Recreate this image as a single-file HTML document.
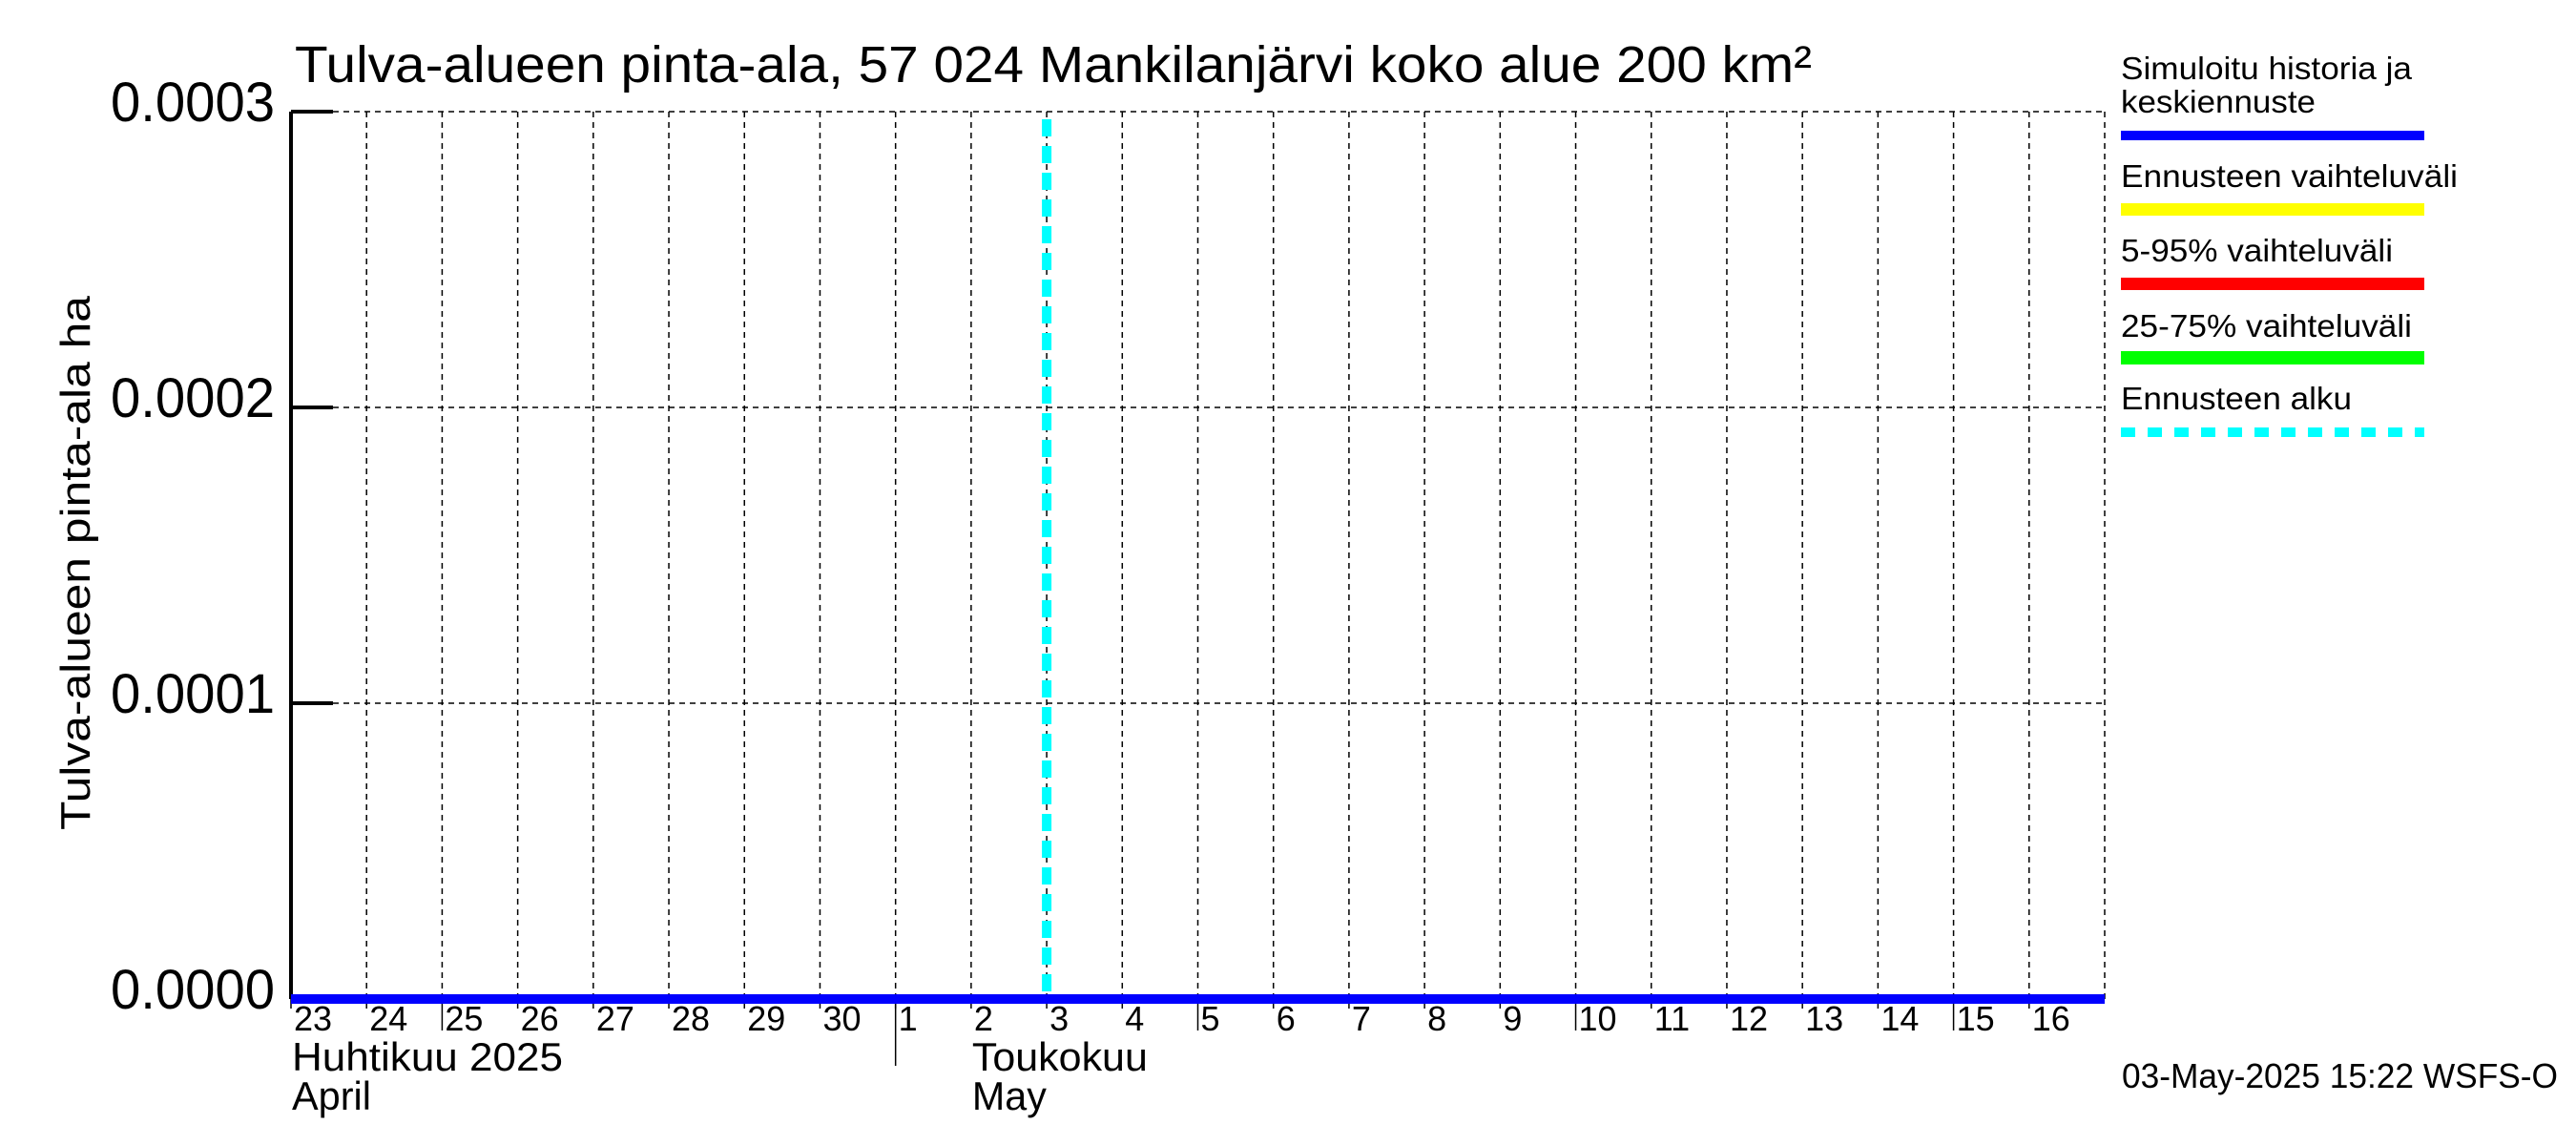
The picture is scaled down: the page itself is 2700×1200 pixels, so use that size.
<!DOCTYPE html>
<html><head><meta charset="utf-8">
<style>
html,body{margin:0;padding:0;background:#fff;}
svg{display:block;font-family:"Liberation Sans",sans-serif;}
</style></head>
<body>
<svg id="chart" width="2700" height="1200" viewBox="0 0 2700 1200" xmlns="http://www.w3.org/2000/svg">
<rect width="2700" height="1200" fill="#fff"/>
<text x="309" y="86" font-size="54" textLength="1590" lengthAdjust="spacingAndGlyphs">Tulva-alueen pinta-ala, 57 024 Mankilanjärvi koko alue 200 km²</text>
<text transform="translate(94,590) rotate(-90)" text-anchor="middle" font-size="44" textLength="560" lengthAdjust="spacingAndGlyphs">Tulva-alueen pinta-ala ha</text>
<g id="grid"></g>
<g id="axes"></g>
<g id="series"></g>
<g id="legend">
<text x="2223" y="83" font-size="33" textLength="305" lengthAdjust="spacingAndGlyphs">Simuloitu historia ja</text>
<text x="2223" y="118" font-size="33" textLength="204" lengthAdjust="spacingAndGlyphs">keskiennuste</text>
<rect x="2223" y="137" width="318" height="10" fill="#0000ff"/>
<text x="2223" y="196" font-size="33" textLength="353" lengthAdjust="spacingAndGlyphs">Ennusteen vaihteluväli</text>
<rect x="2223" y="213" width="318" height="13" fill="#ffff00"/>
<text x="2223" y="274" font-size="33" textLength="285" lengthAdjust="spacingAndGlyphs">5-95% vaihteluväli</text>
<rect x="2223" y="291" width="318" height="13" fill="#ff0000"/>
<text x="2223" y="353" font-size="33" textLength="305" lengthAdjust="spacingAndGlyphs">25-75% vaihteluväli</text>
<rect x="2223" y="368" width="318" height="14" fill="#00ff00"/>
<text x="2223" y="429" font-size="33" textLength="242" lengthAdjust="spacingAndGlyphs">Ennusteen alku</text>
<line x1="2223" y1="453" x2="2541" y2="453" stroke="#00ffff" stroke-width="10" stroke-dasharray="15 13"/>
</g>
<text x="2224" y="1140" font-size="36" textLength="457" lengthAdjust="spacingAndGlyphs">03-May-2025 15:22 WSFS-O</text>
</svg>
<script>
const dayLabels = ["23","24","25","26","27","28","29","30","1","2","3","4","5","6","7","8","9","10","11","12","13","14","15","16"];
const seriesValues = [0,0,0,0,0,0,0,0,0,0,0,0,0,0,0,0,0,0,0,0,0,0,0,0,0];
const yTicks = [0, 0.0001, 0.0002, 0.0003];
const yTickLabels = ["0.0000","0.0001","0.0002","0.0003"];
const forecastStartDay = 10;
const longTickDays = ["25","5","10","15"];

const NS = "http://www.w3.org/2000/svg";
const L = 305, R = 2206, T = 117, B = 1047, nDays = 24;
const xScale = d => L + (R - L) * d / nDays;
const yScale = v => B - (B - T) * v / 0.0003;
function mk(tag, attrs, parent) {
  const e = document.createElementNS(NS, tag);
  for (const k in attrs) e.setAttribute(k, attrs[k]);
  parent.appendChild(e);
  return e;
}
const grid = document.getElementById('grid');
const axes = document.getElementById('axes');
const series = document.getElementById('series');

for (let i = 1; i <= nDays; i++) {
  const gl = mk('line', {x1: xScale(i), x2: xScale(i), y1: T, y2: B, stroke: '#000', 'stroke-width': 1.5, 'stroke-dasharray': '6 5'}, grid);
  
  
}
yTicks.forEach((v, i) => {
  if (v > 0) {
    const gl = mk('line', {x1: L, x2: R, y1: yScale(v), y2: yScale(v), stroke: '#000', 'stroke-width': 1.5, 'stroke-dasharray': '6 5'}, grid);
    
    
  }
  const tk = mk('line', {x1: L, x2: L + 44, y1: yScale(v), y2: yScale(v), stroke: '#000', 'stroke-width': 4}, axes);
  
  
  const tx = mk('text', {x: 288, y: yScale(v) + 10, 'text-anchor': 'end', 'font-size': 58, textLength: 172, lengthAdjust: 'spacingAndGlyphs'}, axes);
  tx.textContent = yTickLabels[i];
  
  
});
const yAxis = mk('line', {x1: L, x2: L, y1: T, y2: B, stroke: '#000', 'stroke-width': 4}, axes);



dayLabels.forEach((lab, i) => {
  const x = xScale(i);
  const len = longTickDays.includes(lab) ? 33 : 10;
  const tk = mk('line', {x1: x, x2: x, y1: B, y2: B + len, stroke: '#000', 'stroke-width': 1.5}, axes);
  
  
  const tx = mk('text', {x: x + 3, y: 1080, 'font-size': 36}, axes);
  tx.textContent = lab;
  
  
});
const sep = mk('line', {x1: xScale(8), x2: xScale(8), y1: B, y2: 1117, stroke: '#000', 'stroke-width': 1.5}, axes);


[["Huhtikuu  2025", xScale(0) + 1, 1122, 284], ["April", xScale(0) + 1, 1163, 83], ["Toukokuu", xScale(9) + 1, 1122, 184], ["May", xScale(9) + 1, 1163, 78]].forEach(m => {
  const t = mk('text', {x: m[1], y: m[2], 'font-size': 42, textLength: m[3], lengthAdjust: 'spacingAndGlyphs', 'xml:space': 'preserve'}, axes);
  t.textContent = m[0];
  
  
});

const fl = mk('line', {x1: xScale(forecastStartDay), x2: xScale(forecastStartDay), y1: T + 8, y2: B, stroke: '#00ffff', 'stroke-width': 10, 'stroke-dasharray': '18 10'}, series);


const pts = seriesValues.map((v, i) => xScale(i) + ',' + yScale(v)).join(' ');
const pl = mk('polyline', {points: pts, fill: 'none', stroke: '#0000ff', 'stroke-width': 10}, series);


</script>
</body></html>
